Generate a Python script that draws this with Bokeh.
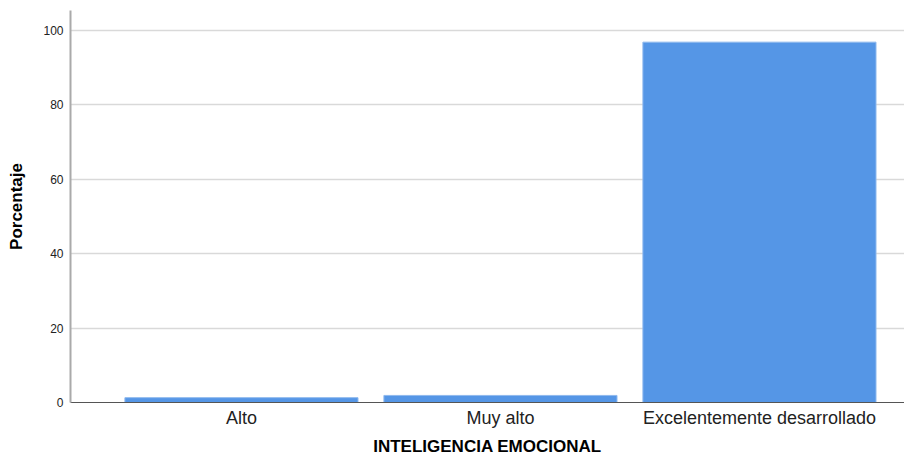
from bokeh.plotting import figure
from bokeh.models import Range1d, FixedTicker, ColumnDataSource
from bokeh.embed import file_html
from bokeh.resources import INLINE

categories = ["Alto", "Muy alto", "Excelentemente desarrollado"]
percentages = [1.3, 1.9, 96.8]
y_ticks = [0, 20, 40, 60, 80, 100]

positions = [i + 0.5 for i in range(len(categories))]
source = ColumnDataSource(dict(x=positions, top=percentages, cat=categories))

p = figure(width=904, height=458, output_backend="svg", toolbar_location=None,
           x_range=Range1d(-0.16, 3.06), y_range=Range1d(0, 105.3),
           min_border_left=70, min_border_right=0, min_border_top=10, min_border_bottom=53)

p.vbar(x="x", top="top", width=0.9, bottom=0, source=source,
       fill_color="#5596e6", line_color="#8fb9ee", line_width=1)

p.xaxis.ticker = FixedTicker(ticks=positions)
p.xaxis.major_label_overrides = {pos: c for pos, c in zip(positions, categories)}
p.yaxis.ticker = FixedTicker(ticks=y_ticks)

p.xaxis.axis_label = "INTELIGENCIA EMOCIONAL"
p.yaxis.axis_label = "Porcentaje"
for ax in (p.xaxis, p.yaxis):
    ax.axis_label_text_font = "Liberation Sans"
    ax.axis_label_text_font_style = "bold"
    ax.axis_label_text_font_size = "17px"
    ax.axis_label_text_color = "#000000"
    ax.major_label_text_font = "Liberation Sans"
    ax.major_label_text_color = "#222222"
    ax.major_tick_line_color = None
    ax.minor_tick_line_color = None
    ax.major_tick_out = 0
    ax.major_tick_in = 0

p.xaxis.major_label_text_font_size = "18px"
p.xaxis.major_label_standoff = 5
p.xaxis.axis_label_standoff = 6
p.xaxis.axis_line_color = "#555555"
p.xaxis.axis_line_width = 1.2

p.yaxis.major_label_text_font_size = "12px"
p.yaxis.major_label_standoff = 7
p.yaxis.axis_label_standoff = 14
p.yaxis.axis_line_color = "#aaaaaa"
p.yaxis.axis_line_width = 2

p.xgrid.grid_line_color = None
p.ygrid.grid_line_color = "#d9d9d9"
p.ygrid.grid_line_width = 1.5
p.outline_line_color = None
p.background_fill_color = "white"
p.border_fill_color = "white"

open("out.html", "w").write(file_html(p, INLINE))
